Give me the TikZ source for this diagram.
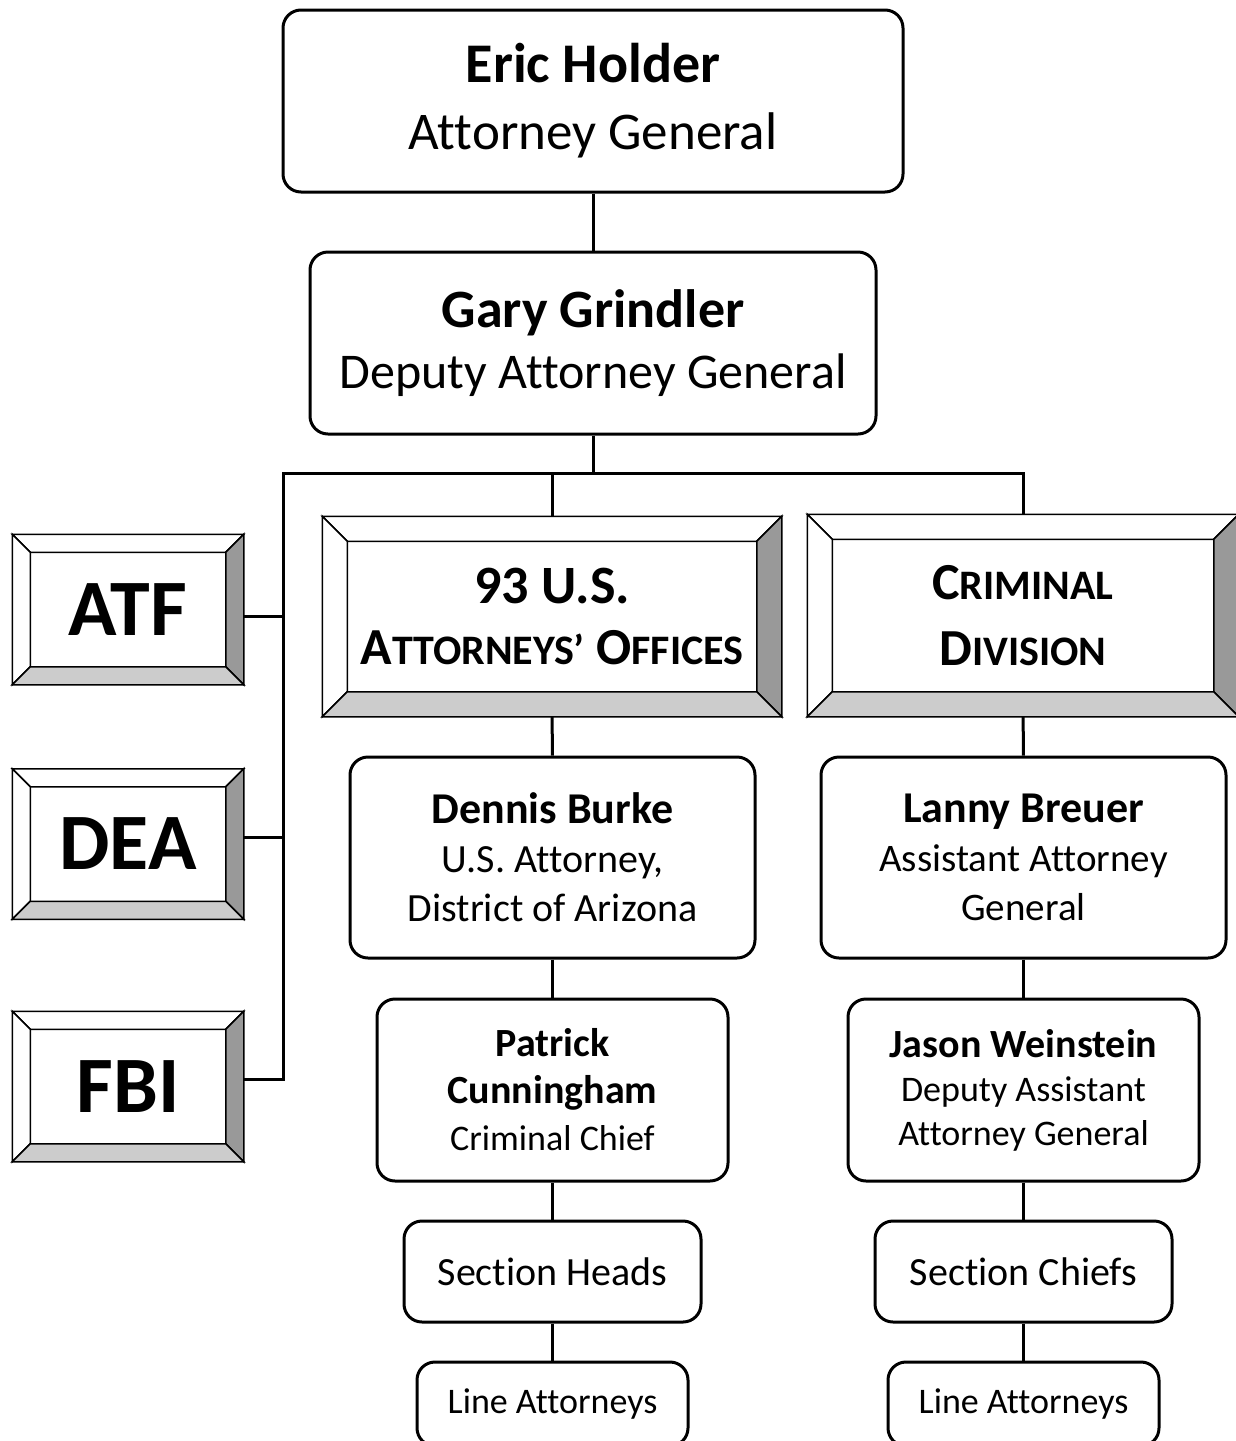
\documentclass[tikz,border=0pt]{standalone}
\usepackage{fontspec}
\setmainfont{Carlito}[Ligatures={NoCommon,NoRare}]
\usetikzlibrary{calc}
\definecolor{bevdark}{HTML}{999999}
\definecolor{bevlight}{HTML}{CCCCCC}
\newcommand{\BigSmall}[2]{{\fontsize{52}{62}\selectfont #1}{\fontsize{42}{52}\selectfont #2}}
\newcommand{\Bevel}[2]{%
  \path (#1.north west) coordinate (o1) (#1.north east) coordinate (o2)
        (#1.south east) coordinate (o3) (#1.south west) coordinate (o4);
  \path ($(o1)+(#2,#2)$) coordinate (i1) ($(o2)+(-#2,#2)$) coordinate (i2)
        ($(o3)+(-#2,-#2)$) coordinate (i3) ($(o4)+(#2,-#2)$) coordinate (i4);
  \filldraw[bevline, fill=white] (o1) -- (o2) -- (i2) -- (i1) -- cycle;
  \filldraw[bevline, fill=white] (o1) -- (i1) -- (i4) -- (o4) -- cycle;
  \filldraw[bevline, fill=bevdark] (o2) -- (o3) -- (i3) -- (i2) -- cycle;
  \filldraw[bevline, fill=bevlight] (o4) -- (i4) -- (i3) -- (o3) -- cycle;
}

\begin{document}
\begin{tikzpicture}[x=1pt, y=-1pt,
    person/.style = {draw, line width=3pt, rounded corners=18pt, fill=white,
                     align=center, inner sep=0pt},
    agency/.style = {draw, line width=1.5pt, fill=white, align=center, inner sep=0pt},
    bevline/.style = {line width=1.5pt, line join=miter},
    link/.style = {line width=3pt}]
    \useasboundingbox (0,0) rectangle (1235,1441);

    % top of the department
    \node[person, minimum width=620pt, minimum height=182pt, font=\fontsize{53}{67}\selectfont]
        (holder) at (593,101) {{\fontsize{56}{67}\selectfont\bfseries Eric Holder}\\Attorney General};
    \node[person, minimum width=566pt, minimum height=182pt, font=\fontsize{50}{61}\selectfont]
        (grindler) at (593,343) {{\fontsize{54}{61}\selectfont\bfseries Gary Grindler}\\Deputy Attorney General};

    % agencies
    \node[agency, minimum width=230pt, minimum height=149pt, font=\fontsize{80}{96}\selectfont\bfseries]
        (atf) at (128,609.5) {ATF};
    \node[agency, minimum width=230pt, minimum height=149pt, font=\fontsize{80}{96}\selectfont\bfseries]
        (dea) at (128,844) {DEA};
    \node[agency, minimum width=230pt, minimum height=149pt, font=\fontsize{80}{96}\selectfont\bfseries]
        (fbi) at (128,1086.5) {FBI};
    \Bevel{atf}{18}
    \Bevel{dea}{18}
    \Bevel{fbi}{18}

    % the two branches
    \node[agency, minimum width=458pt, minimum height=199pt, font=\fontsize{52}{61}\selectfont\bfseries]
        (usao) at (552,616.5) {{\fontsize{54}{61}\selectfont 93 U.S.}\\\BigSmall{A}{TTORNEYS’} \BigSmall{O}{FFICES}};
    \node[agency, minimum width=430pt, minimum height=201pt, font=\fontsize{52}{66}\selectfont\bfseries]
        (crim) at (1023,615.5) {\BigSmall{C}{RIMINAL}\\\BigSmall{D}{IVISION}};
    \Bevel{usao}{25}
    \Bevel{crim}{25}

    % U.S. Attorneys' side
    \node[person, minimum width=405pt, minimum height=201pt, font=\fontsize{40}{49}\selectfont]
        (burke) at (552.5,857.5) {{\fontsize{44}{49}\selectfont\bfseries Dennis Burke}\\U.S. Attorney,\\District of Arizona};
    \node[person, minimum width=351pt, minimum height=182pt, font=\fontsize{36}{47}\selectfont]
        (cunningham) at (552.5,1090) {{\fontsize{40}{47}\selectfont\bfseries Patrick}\\{\fontsize{40}{47}\selectfont\bfseries Cunningham}\\Criminal Chief};
    \node[person, minimum width=297pt, minimum height=101pt, font=\fontsize{40}{48}\selectfont]
        (heads) at (552.5,1271.5) {Section Heads};
    \node[person, minimum width=271pt, minimum height=84pt, font=\fontsize{36}{44}\selectfont]
        (lineA) at (552.5,1404) {Line Attorneys};

    % Criminal Division side
    \node[person, minimum width=405pt, minimum height=201pt, font=\fontsize{39}{49}\selectfont]
        (breuer) at (1023.5,857.5) {{\fontsize{44}{49}\selectfont\bfseries Lanny Breuer}\\Assistant Attorney\\General};
    \node[person, minimum width=351pt, minimum height=182pt, font=\fontsize{36}{44}\selectfont]
        (weinstein) at (1023.5,1090) {{\fontsize{40}{47}\selectfont\bfseries Jason Weinstein}\\Deputy Assistant\\Attorney General};
    \node[person, minimum width=297pt, minimum height=101pt, font=\fontsize{40}{48}\selectfont]
        (chiefs) at (1023.5,1271.5) {Section Chiefs};
    \node[person, minimum width=271pt, minimum height=84pt, font=\fontsize{36}{44}\selectfont]
        (lineB) at (1023.5,1404) {Line Attorneys};

    % connectors
    \coordinate (bus) at (593,473);
    \coordinate (busL) at (283,473);
    \coordinate (busR) at (1023,473);
    \draw[link] (holder) -- (grindler);
    \draw[link] (grindler) -- (bus);
    \draw[link] ([yshift=7pt]fbi.east) -| (busL) -- (busR) -- (crim.north);
    \draw[link] ([yshift=-6.5pt]atf.east) -- ([yshift=-6.5pt]atf.east -| busL);
    \draw[link] ([yshift=7pt]dea.east) -- ([yshift=7pt]dea.east -| busL);
    \draw[link] (usao.north) -- (usao.north |- bus);
    \draw[link] (usao) -- (burke);
    \draw[link] (burke) -- (cunningham);
    \draw[link] (cunningham) -- (heads);
    \draw[link] (heads) -- (lineA);
    \draw[link] (crim) -- (breuer);
    \draw[link] (breuer) -- (weinstein);
    \draw[link] (weinstein) -- (chiefs);
    \draw[link] (chiefs) -- (lineB);
\end{tikzpicture}
\end{document}
